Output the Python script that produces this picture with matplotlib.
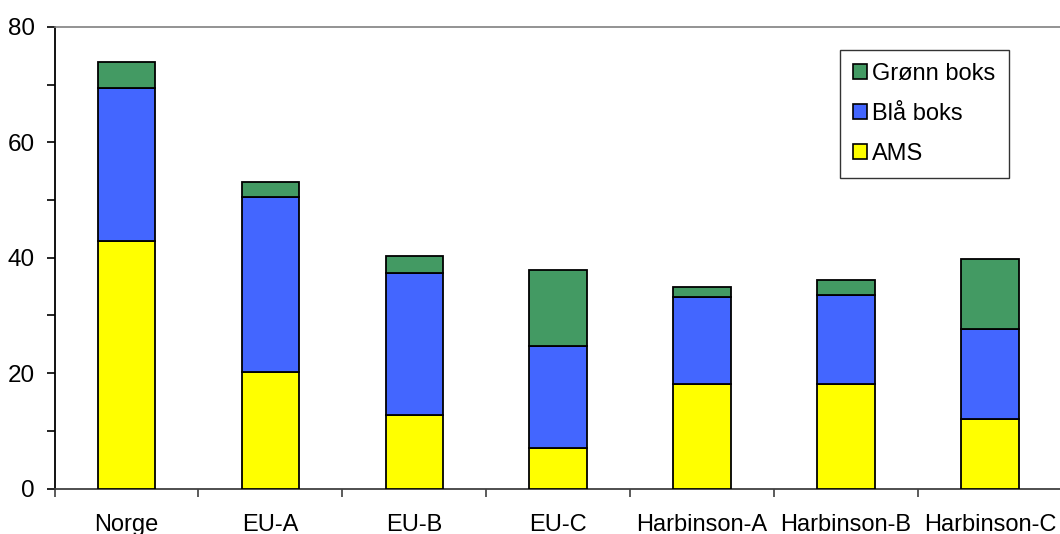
import matplotlib
matplotlib.use("Agg")
import matplotlib.pyplot as plt
from matplotlib.patches import Patch
import numpy as np

plt.rcParams['font.family'] = ['Liberation Sans', 'DejaVu Sans']

categories = ["Norge", "EU-A", "EU-B", "EU-C", "Harbinson-A", "Harbinson-B", "Harbinson-C"]
ams = [42.9, 20.2, 12.7, 7.1, 18.2, 18.2, 12.0]
blaa = [26.5, 30.3, 24.7, 17.6, 15.0, 15.3, 15.6]
groenn = [4.5, 2.6, 2.9, 13.1, 1.7, 2.6, 12.2]

series = [("AMS", ams, "#FFFF00"),
          ("Blå boks", blaa, "#4366FF"),
          ("Grønn boks", groenn, "#439A63")]

fig = plt.figure(figsize=(10.6, 5.34), dpi=100)
ax = fig.add_axes([54.5 / 1060, 1 - 488.5 / 534, (1062 - 54.5) / 1060, (488.5 - 27) / 534])

x = np.arange(len(categories))
bottom = np.zeros(len(categories))
for name, vals, col in series:
    ax.bar(x, vals, width=0.4, bottom=bottom, color=col, edgecolor="black",
           linewidth=1.3, label=name, zorder=3)
    bottom += np.array(vals)

ax.set_xlim(-0.5, len(categories) - 0.5)
ax.set_ylim(0, 80)
ax.set_yticks([0, 20, 40, 60, 80])
ax.set_yticks([10, 30, 50, 70], minor=True)
ax.set_xticks(x)
ax.set_xticklabels(categories)
ax.set_xticks(np.arange(len(categories) + 1) - 0.5, minor=True)

ax.tick_params(axis='x', which='major', length=0, pad=18.5, labelsize=17)
ax.tick_params(axis='x', which='minor', length=6, width=1.2, color="#404040", direction='out')
ax.tick_params(axis='y', which='both', length=6, width=1.2, color="black", direction='out',
               labelsize=17.5, pad=8)

ax.spines['right'].set_visible(False)
ax.spines['top'].set_color("#808080")
ax.spines['top'].set_linewidth(1.2)
ax.spines['left'].set_color("black")
ax.spines['left'].set_linewidth(1.3)
ax.spines['bottom'].set_color("#404040")
ax.spines['bottom'].set_linewidth(1.3)

handles = [Patch(facecolor=c, edgecolor="black", linewidth=1.2, label=n)
           for n, _, c in reversed(series)]
leg = fig.legend(handles=handles, loc='upper left',
                 bbox_to_anchor=(840 / 1060, 1 - 50 / 534),
                 fontsize=17, frameon=True, fancybox=False, edgecolor="black",
                 handlelength=0.6, handleheight=0.6, handletextpad=0.2,
                 labelspacing=0.75, borderpad=0.56, borderaxespad=0)
leg.get_frame().set_linewidth(1.0)

fig.savefig("out.png", dpi=100, facecolor="white")
